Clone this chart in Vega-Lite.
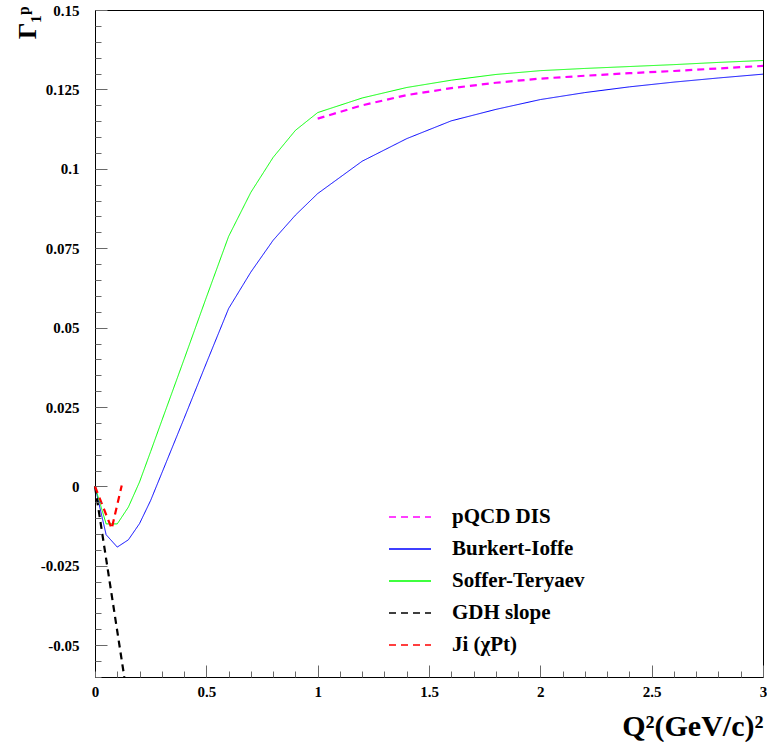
{
  "$schema": "https://vega.github.io/schema/vega-lite/v6.json",
  "autosize": {"type": "none"},
  "padding": {"left": 95, "top": 10, "right": 4, "bottom": 65},
  "width": 668,
  "height": 667,
  "background": "white",
  "config": {
    "view": {"stroke": "#000", "strokeWidth": 1}
  },
  "datasets": {
    "curves": [
      {"series": "Burkert-Ioffe", "x": 0, "y": 0},
      {"series": "Burkert-Ioffe", "x": 0.05, "y": -0.0152},
      {"series": "Burkert-Ioffe", "x": 0.1, "y": -0.0191},
      {"series": "Burkert-Ioffe", "x": 0.15, "y": -0.0168},
      {"series": "Burkert-Ioffe", "x": 0.2, "y": -0.0117},
      {"series": "Burkert-Ioffe", "x": 0.25, "y": -0.0044},
      {"series": "Burkert-Ioffe", "x": 0.3, "y": 0.0042},
      {"series": "Burkert-Ioffe", "x": 0.4, "y": 0.0214},
      {"series": "Burkert-Ioffe", "x": 0.5, "y": 0.0388},
      {"series": "Burkert-Ioffe", "x": 0.6, "y": 0.056},
      {"series": "Burkert-Ioffe", "x": 0.7, "y": 0.0675},
      {"series": "Burkert-Ioffe", "x": 0.8, "y": 0.0775},
      {"series": "Burkert-Ioffe", "x": 0.9, "y": 0.0854},
      {"series": "Burkert-Ioffe", "x": 1.0, "y": 0.0922},
      {"series": "Burkert-Ioffe", "x": 1.2, "y": 0.1024},
      {"series": "Burkert-Ioffe", "x": 1.4, "y": 0.1095},
      {"series": "Burkert-Ioffe", "x": 1.6, "y": 0.1151},
      {"series": "Burkert-Ioffe", "x": 1.8, "y": 0.1187},
      {"series": "Burkert-Ioffe", "x": 2.0, "y": 0.1218},
      {"series": "Burkert-Ioffe", "x": 2.2, "y": 0.124},
      {"series": "Burkert-Ioffe", "x": 2.4, "y": 0.1258},
      {"series": "Burkert-Ioffe", "x": 2.6, "y": 0.1273},
      {"series": "Burkert-Ioffe", "x": 2.8, "y": 0.1286},
      {"series": "Burkert-Ioffe", "x": 3.0, "y": 0.1298},
      {"series": "Soffer-Teryaev", "x": 0, "y": 0},
      {"series": "Soffer-Teryaev", "x": 0.05, "y": -0.0118},
      {"series": "Soffer-Teryaev", "x": 0.1, "y": -0.0118},
      {"series": "Soffer-Teryaev", "x": 0.15, "y": -0.0065},
      {"series": "Soffer-Teryaev", "x": 0.2, "y": 0.0014},
      {"series": "Soffer-Teryaev", "x": 0.25, "y": 0.011},
      {"series": "Soffer-Teryaev", "x": 0.3, "y": 0.0207},
      {"series": "Soffer-Teryaev", "x": 0.4, "y": 0.04},
      {"series": "Soffer-Teryaev", "x": 0.5, "y": 0.0595},
      {"series": "Soffer-Teryaev", "x": 0.6, "y": 0.0787},
      {"series": "Soffer-Teryaev", "x": 0.7, "y": 0.0926},
      {"series": "Soffer-Teryaev", "x": 0.8, "y": 0.1036},
      {"series": "Soffer-Teryaev", "x": 0.9, "y": 0.1121},
      {"series": "Soffer-Teryaev", "x": 1.0, "y": 0.1177},
      {"series": "Soffer-Teryaev", "x": 1.2, "y": 0.1223},
      {"series": "Soffer-Teryaev", "x": 1.4, "y": 0.1256},
      {"series": "Soffer-Teryaev", "x": 1.6, "y": 0.1279},
      {"series": "Soffer-Teryaev", "x": 1.8, "y": 0.1297},
      {"series": "Soffer-Teryaev", "x": 2.0, "y": 0.1309},
      {"series": "Soffer-Teryaev", "x": 2.2, "y": 0.1316},
      {"series": "Soffer-Teryaev", "x": 2.4, "y": 0.1322},
      {"series": "Soffer-Teryaev", "x": 2.6, "y": 0.1328},
      {"series": "Soffer-Teryaev", "x": 2.8, "y": 0.1335},
      {"series": "Soffer-Teryaev", "x": 3.0, "y": 0.1341},
      {"series": "pQCD DIS", "x": 1.0, "y": 0.1158},
      {"series": "pQCD DIS", "x": 1.2, "y": 0.12},
      {"series": "pQCD DIS", "x": 1.4, "y": 0.1232},
      {"series": "pQCD DIS", "x": 1.6, "y": 0.1254},
      {"series": "pQCD DIS", "x": 1.8, "y": 0.1271},
      {"series": "pQCD DIS", "x": 2.0, "y": 0.1284},
      {"series": "pQCD DIS", "x": 2.2, "y": 0.1293},
      {"series": "pQCD DIS", "x": 2.4, "y": 0.1301},
      {"series": "pQCD DIS", "x": 2.6, "y": 0.1308},
      {"series": "pQCD DIS", "x": 2.8, "y": 0.1316},
      {"series": "pQCD DIS", "x": 3.0, "y": 0.1324},
      {"series": "GDH slope", "x": 0, "y": 0},
      {"series": "GDH slope", "x": 0.1316, "y": -0.06},
      {"series": "Ji (χPt)", "x": 0, "y": 0},
      {"series": "Ji (χPt)", "x": 0.075, "y": -0.0133},
      {"series": "Ji (χPt)", "x": 0.12, "y": 0.0003}
    ]
  },
  "resolve": {"axis": {"x": "independent", "y": "independent"}},
  "layer": [
    {
      "data": {"name": "curves"},
      "mark": {"type": "point", "opacity": 0},
      "encoding": {
        "x": {
          "field": "x", "type": "quantitative",
          "scale": {"domain": [0, 3], "nice": false, "zero": false},
          "axis": {
            "orient": "top",
            "offset": -667,
            "zindex": 1,
            "values": [0,0.1,0.2,0.3,0.4,0.5,0.6,0.7,0.8,0.9,1,1.1,1.2,1.3,1.4,1.5,1.6,1.7,1.8,1.9,2,2.1,2.2,2.3,2.4,2.5,2.6,2.7,2.8,2.9,3],
            "labels": false,
            "domain": false,
            "grid": false,
            "tickSize": 6,
            "tickWidth": 1,
            "tickColor": "dimgray",
            "title": null
          }
        },
        "y": {
          "field": "y", "type": "quantitative",
          "scale": {"domain": [-0.06, 0.15], "nice": false, "zero": false},
          "axis": {
            "orient": "right",
            "offset": -668,
            "zindex": 1,
            "values": [-0.06,-0.055,-0.05,-0.045,-0.04,-0.035,-0.03,-0.025,-0.02,-0.015,-0.01,-0.005,0,0.005,0.01,0.015,0.02,0.025,0.03,0.035,0.04,0.045,0.05,0.055,0.06,0.065,0.07,0.075,0.08,0.085,0.09,0.095,0.1,0.105,0.11,0.115,0.12,0.125,0.13,0.135,0.14,0.145,0.15],
            "labels": false,
            "domain": false,
            "grid": false,
            "tickSize": 6,
            "tickWidth": 1,
            "tickColor": "dimgray",
            "title": null
          }
        }
      }
    },
    {
      "mark": {"type": "rule", "color": "#333", "strokeWidth": 1},
      "encoding": {"y": {"datum": 0, "type": "quantitative", "axis": null}}
    },
    {
      "data": {"name": "curves"},
      "transform": [{"filter": {"field": "series", "oneOf": ["Burkert-Ioffe", "Soffer-Teryaev"]}}],
      "mark": {"type": "line", "strokeWidth": 1},
      "encoding": {
        "x": {
          "field": "x", "type": "quantitative",
          "axis": {
            "orient": "bottom",
            "values": [0, 0.5, 1, 1.5, 2, 2.5, 3],
            "labelExpr": "toString(datum.value)",
            "grid": false,
            "tickSize": -12,
            "tickWidth": 1,
            "tickColor": "dimgray",
            "domainColor": "black",
            "labelPadding": 19,
            "labelFont": "Liberation Serif",
            "labelFontWeight": "bold",
            "labelFontSize": 15,
            "labelColor": "black",
            "labelOverlap": false,
            "labelFlush": false,
            "title": "Q²(GeV/c)²",
            "titleFont": "Liberation Serif",
            "titleFontWeight": "bold",
            "titleColor": "black",
            "titleFontSize": 30,
            "titleAnchor": "end",
            "titleAlign": "right",
            "titleX": 668,
            "titleY": 58,
            "titleBaseline": "alphabetic"
          }
        },
        "y": {
          "field": "y", "type": "quantitative",
          "axis": {
            "orient": "left",
            "values": [-0.05, -0.025, 0, 0.025, 0.05, 0.075, 0.1, 0.125, 0.15],
            "labelExpr": "toString(datum.value)",
            "grid": false,
            "tickSize": -12,
            "tickWidth": 1,
            "tickColor": "dimgray",
            "domainColor": "black",
            "labelPadding": 28,
            "labelFont": "Liberation Serif",
            "labelFontWeight": "bold",
            "labelFontSize": 15,
            "labelColor": "black",
            "labelOverlap": false,
            "labelFlush": false,
            "title": "Γ₁ᵖ",
            "titleFont": "Liberation Serif",
            "titleFontWeight": "bold",
            "titleColor": "black",
            "titleFontSize": 26,
            "titleAngle": -90,
            "titleAnchor": "end",
            "titleAlign": "right",
            "titleX": -60,
            "titleY": -4,
            "titleBaseline": "alphabetic"
          }
        },
        "color": {
          "field": "series", "type": "nominal",
          "scale": {
            "domain": ["pQCD DIS", "Burkert-Ioffe", "Soffer-Teryaev", "GDH slope", "Ji (χPt)"],
            "range": ["#ff00ff", "#0000ff", "#00ff00", "#000000", "#ff0000"]
          },
          "legend": {
            "orient": "none",
            "legendX": 293,
            "legendY": 485,
            "title": null,
            "symbolType": "stroke",
            "symbolSize": 1764,
            "symbolStrokeWidth": 1.5,
            "labelOffset": 20,
            "rowPadding": -10,
            "labelFont": "Liberation Serif",
            "labelFontWeight": "bold",
            "labelFontSize": 21,
            "labelColor": "black"
          }
        },
        "strokeDash": {
          "field": "series", "type": "nominal",
          "scale": {
            "domain": ["pQCD DIS", "Burkert-Ioffe", "Soffer-Teryaev", "GDH slope", "Ji (χPt)"],
            "range": [[7, 5], [1, 0], [1, 0], [7, 5], [7, 5]]
          },
          "legend": {
            "orient": "none",
            "legendX": 293,
            "legendY": 485,
            "title": null,
            "symbolType": "stroke",
            "symbolSize": 1764,
            "symbolStrokeWidth": 1.5,
            "labelOffset": 20,
            "rowPadding": -10,
            "labelFont": "Liberation Serif",
            "labelFontWeight": "bold",
            "labelFontSize": 21,
            "labelColor": "black"
          }
        }
      }
    },
    {
      "data": {"name": "curves"},
      "transform": [{"filter": {"field": "series", "oneOf": ["pQCD DIS", "GDH slope", "Ji (χPt)"]}}],
      "mark": {"type": "line", "strokeWidth": 2.2},
      "encoding": {
        "x": {"field": "x", "type": "quantitative", "axis": null},
        "y": {"field": "y", "type": "quantitative", "axis": null},
        "color": {
          "field": "series", "type": "nominal",
          "scale": {
            "domain": ["pQCD DIS", "Burkert-Ioffe", "Soffer-Teryaev", "GDH slope", "Ji (χPt)"],
            "range": ["#ff00ff", "#0000ff", "#00ff00", "#000000", "#ff0000"]
          },
          "legend": {
            "orient": "none",
            "legendX": 293,
            "legendY": 485,
            "title": null,
            "symbolType": "stroke",
            "symbolSize": 1764,
            "symbolStrokeWidth": 1.5,
            "labelOffset": 20,
            "rowPadding": -10,
            "labelFont": "Liberation Serif",
            "labelFontWeight": "bold",
            "labelFontSize": 21,
            "labelColor": "black"
          }
        },
        "strokeDash": {
          "field": "series", "type": "nominal",
          "scale": {
            "domain": ["pQCD DIS", "Burkert-Ioffe", "Soffer-Teryaev", "GDH slope", "Ji (χPt)"],
            "range": [[7, 5], [1, 0], [1, 0], [7, 5], [7, 5]]
          },
          "legend": {
            "orient": "none",
            "legendX": 293,
            "legendY": 485,
            "title": null,
            "symbolType": "stroke",
            "symbolSize": 1764,
            "symbolStrokeWidth": 1.5,
            "labelOffset": 20,
            "rowPadding": -10,
            "labelFont": "Liberation Serif",
            "labelFontWeight": "bold",
            "labelFontSize": 21,
            "labelColor": "black"
          }
        }
      }
    }
  ]
}
